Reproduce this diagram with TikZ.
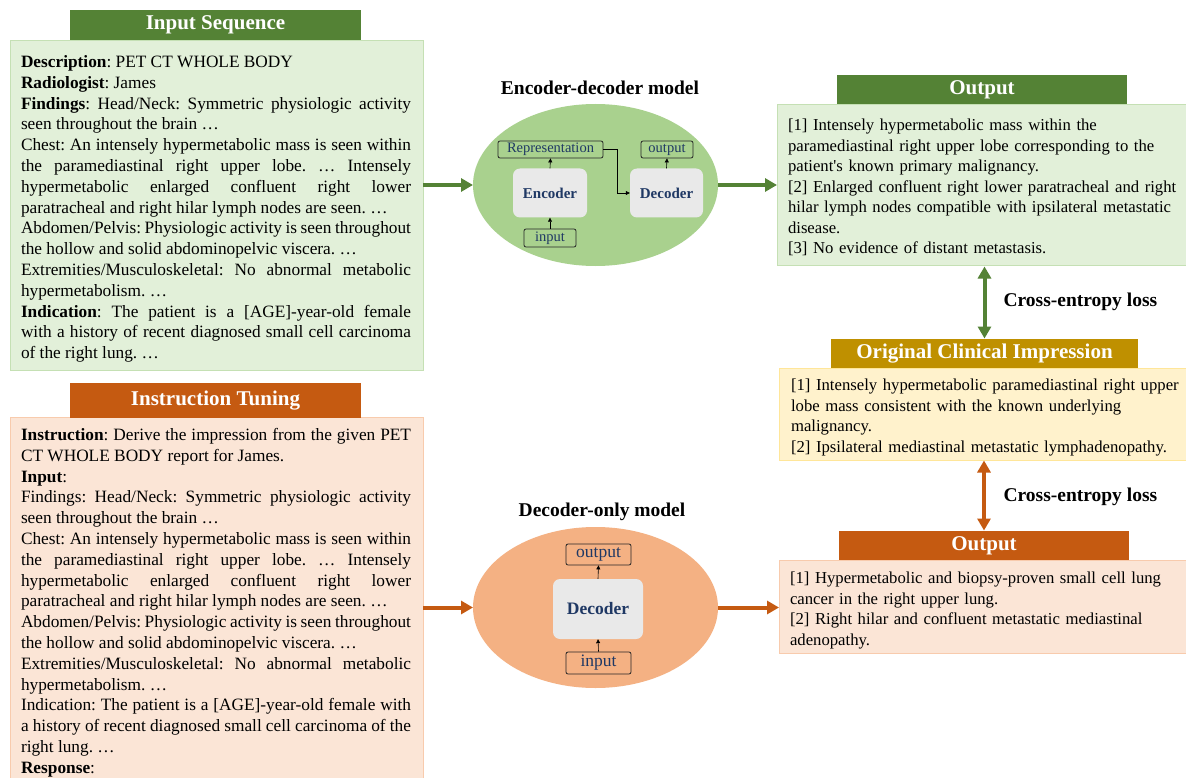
\documentclass[tikz,border=0pt]{standalone}
\usepackage{fontspec}
\setmainfont{Liberation Serif}
\usetikzlibrary{arrows.meta,shapes.geometric}
\definecolor{hgreen}{HTML}{548235}
\definecolor{lgreen}{HTML}{E2F0D9}
\definecolor{bgreen}{HTML}{C5E0B4}
\definecolor{egreen}{HTML}{A9D18E}
\definecolor{horange}{HTML}{C55A11}
\definecolor{lorange}{HTML}{FBE5D6}
\definecolor{borange}{HTML}{F8CBAD}
\definecolor{eorange}{HTML}{F4B183}
\definecolor{hgold}{HTML}{BF9000}
\definecolor{lyellow}{HTML}{FFF2CC}
\definecolor{byellow}{HTML}{FFE699}
\definecolor{navy}{HTML}{1F3864}
\definecolor{lgray}{HTML}{E9E9E9}
\newcommand\nohyph{\frenchspacing\hyphenpenalty=10000 \exhyphenpenalty=10000 \tolerance=10000 \spaceskip=.25em plus .25em minus .12em\relax}
\begin{document}
\frenchspacing
\begin{tikzpicture}[x=1pt,y=-1pt,
  box/.style={rectangle,inner sep=0pt,outer sep=0pt,anchor=north west,line width=0.8pt},
  head/.style={rectangle,inner sep=0pt,outer sep=0pt,anchor=north west,text=white,font=\fontsize{21}{24}\selectfont\bfseries},
  ltext/.style={inner sep=0pt,outer sep=0pt,anchor=north west,text width=390pt,align=justify,
    font=\fontsize{17.3}{20.8}\selectfont},
  rtext/.style={inner sep=0pt,outer sep=0pt,anchor=north west,text width=398pt,align=left,
    font=\fontsize{16.7}{20.5}\selectfont\frenchspacing},
  title/.style={font=\fontsize{19.5}{22}\selectfont\bfseries},
  inner/.style={rectangle,rounded corners=2pt,draw=black!85,line width=0.8pt,inner sep=0pt,text=navy},
  core/.style={rectangle,rounded corners=7pt,fill=lgray,inner sep=0pt,text=navy},
  sarrow/.style={line width=0.6pt,-{Triangle[length=4pt,width=4pt]}},
  garrow/.style={hgreen,line width=4pt,-{Triangle[length=12pt,width=13pt]}},
  oarrow/.style={horange,line width=4pt,-{Triangle[length=12pt,width=13pt]}},
  gdbl/.style={hgreen,line width=4pt,{Triangle[length=12pt,width=13pt]}-{Triangle[length=12pt,width=13pt]}},
  odbl/.style={horange,line width=4pt,{Triangle[length=12pt,width=13pt]}-{Triangle[length=12pt,width=13pt]}},
]
\useasboundingbox (0,0) rectangle (1186,778);
\fill[white] (0,0) rectangle (1186,778);

% ---------- Input sequence (left top)
\node[box,fill=lgreen,draw=bgreen,minimum width=413pt,minimum height=330pt] (inbox) at (10,40) {};
\node[head,fill=hgreen,minimum width=291pt,minimum height=30pt] (inhead) at (70,10) {Input Sequence};
\node[ltext] (intext) at (21,52.9) {\nohyph\strut\textbf{Description}: PET CT WHOLE BODY\par
\textbf{Radiologist}: James\par
\textbf{Findings}: Head/Neck: Symmetric physiologic activity \linebreak seen throughout the brain …\par
Chest: An intensely hypermetabolic mass is seen within \linebreak the paramediastinal right upper lobe. … Intensely \linebreak hypermetabolic enlarged confluent right lower \linebreak paratracheal and right hilar lymph nodes are seen. …\par
Abdomen/Pelvis: Physiologic activity is seen throughout \linebreak the hollow and solid abdominopelvic viscera. …\par
Extremities/Musculoskeletal: No abnormal metabolic \linebreak hypermetabolism. …\par
\textbf{Indication}: The patient is a [AGE]-year-old female \linebreak with a history of recent diagnosed small cell carcinoma \linebreak of the right lung. …};

% ---------- Instruction tuning (left bottom)
\node[box,fill=lorange,draw=borange,minimum width=413pt,minimum height=365pt] (insbox) at (10,417) {};
\node[head,fill=horange,minimum width=291pt,minimum height=35pt] (inshead) at (70,383) {Instruction Tuning};
\node[ltext] (instext) at (21,425.9) {\nohyph\strut\textbf{Instruction}: Derive the impression from the given PET \linebreak CT WHOLE BODY report for James.\par
\textbf{Input}:\par
Findings: Head/Neck: Symmetric physiologic activity \linebreak seen throughout the brain …\par
Chest: An intensely hypermetabolic mass is seen within \linebreak the paramediastinal right upper lobe. … Intensely \linebreak hypermetabolic enlarged confluent right lower \linebreak paratracheal and right hilar lymph nodes are seen. …\par
Abdomen/Pelvis: Physiologic activity is seen throughout \linebreak the hollow and solid abdominopelvic viscera. …\par
Extremities/Musculoskeletal: No abnormal metabolic \linebreak hypermetabolism. …\par
Indication: The patient is a [AGE]-year-old female with \linebreak a history of recent diagnosed small cell carcinoma of the \linebreak right lung. …\par
\textbf{Response}:};

% ---------- Encoder-decoder model
\node[title] (t1) at (600,88) {Encoder-decoder model};
\node[ellipse,fill=egreen,minimum width=245pt,minimum height=162pt,inner sep=0pt,outer sep=0pt] (ell1) at (595.5,185) {};
\node[core,minimum width=74pt,minimum height=49pt,font=\fontsize{15}{16}\selectfont\bfseries] (enc) at (550,193) {Encoder};
\node[core,minimum width=73pt,minimum height=49pt,font=\fontsize{15}{16}\selectfont\bfseries] (dec1) at (666.5,193) {Decoder};
\node[inner,minimum width=105pt,minimum height=17pt,font=\fontsize{14.5}{16}\selectfont] (rep) at (550.5,149.5) {Representation};
\node[inner,minimum width=52pt,minimum height=17pt,font=\fontsize{14.5}{16}\selectfont] (out1) at (667,149.5) {output};
\node[inner,minimum width=52pt,minimum height=18pt,font=\fontsize{14.5}{16}\selectfont] (in1) at (550,238) {input};
\draw[sarrow] (in1.north) -- (enc.south);
\draw[sarrow] (enc.north) -- (rep.south);
\draw[sarrow] (dec1.north) -- (out1.south);
\coordinate (bend) at (617,149.5);
\draw[sarrow] (rep.east) -- (bend) -- (bend |- dec1.west) -- (dec1.west);

% ---------- Decoder-only model
\node[title] (t2) at (602,512) {Decoder-only model};
\node[ellipse,fill=eorange,minimum width=245pt,minimum height=161pt,inner sep=0pt,outer sep=0pt] (ell2) at (595.5,607.5) {};
\node[core,minimum width=90pt,minimum height=60pt,font=\fontsize{17.5}{19}\selectfont\bfseries] (dec2) at (598,609) {Decoder};
\node[inner,minimum width=65pt,minimum height=21pt,font=\fontsize{17.5}{19}\selectfont] (out3) at (598.5,554.5) {output};
\node[inner,minimum width=65pt,minimum height=22pt,font=\fontsize{17.5}{19}\selectfont] (in3) at (598.5,663) {input};
\draw[sarrow] (in3.north) -- (dec2.south);
\draw[sarrow] (dec2.north) -- (out3.south);

% ---------- Output (green, right top)
\node[box,fill=lgreen,draw=bgreen,minimum width=409pt,minimum height=161pt] (outbox) at (777,104) {};
\node[head,fill=hgreen,minimum width=290pt,minimum height=29pt] (outhead) at (837,75) {Output};
\node[rtext] (outtext) at (788,116.2) {\strut{[1]} Intensely hypermetabolic mass within the\\
paramediastinal right upper lobe corresponding to the\\
patient\textquotesingle s known primary malignancy.\\
{[2]} Enlarged confluent right lower paratracheal and right\\
hilar lymph nodes compatible with ipsilateral metastatic\\
disease.\\
{[3]} No evidence of distant metastasis.};

% ---------- Original clinical impression
\node[box,fill=lyellow,draw=byellow,minimum width=407pt,minimum height=92pt] (ocibox) at (779,368) {};
\node[head,fill=hgold,minimum width=307pt,minimum height=29pt] (ocihead) at (831,339) {Original Clinical Impression};
\node[rtext] (ocitext) at (791,376.2) {\strut{[1]} Intensely hypermetabolic paramediastinal right upper\\
lobe mass consistent with the known underlying\\
malignancy.\\
{[2]} Ipsilateral mediastinal metastatic lymphadenopathy.};

% ---------- Output (orange, right bottom)
\node[box,fill=lorange,draw=borange,minimum width=407pt,minimum height=93pt] (out2box) at (779,560) {};
\node[head,fill=horange,minimum width=290pt,minimum height=29pt] (out2head) at (839,531) {Output};
\node[rtext] (out2text) at (790,569.2) {\strut{[1]} Hypermetabolic and biopsy-proven small cell lung\\
cancer in the right upper lung.\\
{[2]} Right hilar and confluent metastatic mediastinal\\
adenopathy.};

% ---------- Connectors
\draw[garrow] (inbox.east |- ell1) -- (ell1.west);
\draw[garrow] (ell1.east) -- (outbox.west |- ell1);
\draw[oarrow] (insbox.east |- ell2) -- (ell2.west);
\draw[oarrow] (ell2.east) -- (out2box.west |- ell2);
\draw[gdbl,shorten <=1.5pt,shorten >=0.5pt] (ocihead.north |- outbox.south) -- (ocihead.north);
\draw[odbl,shorten <=0.5pt,shorten >=0.5pt] (out2head.north |- ocibox.south) -- (out2head.north);
\node[title,anchor=west] (ce1) at (1000,302) {Cross-entropy loss};
\node[title,anchor=west] (ce2) at (1000,497) {Cross-entropy loss};
\end{tikzpicture}
\end{document}
